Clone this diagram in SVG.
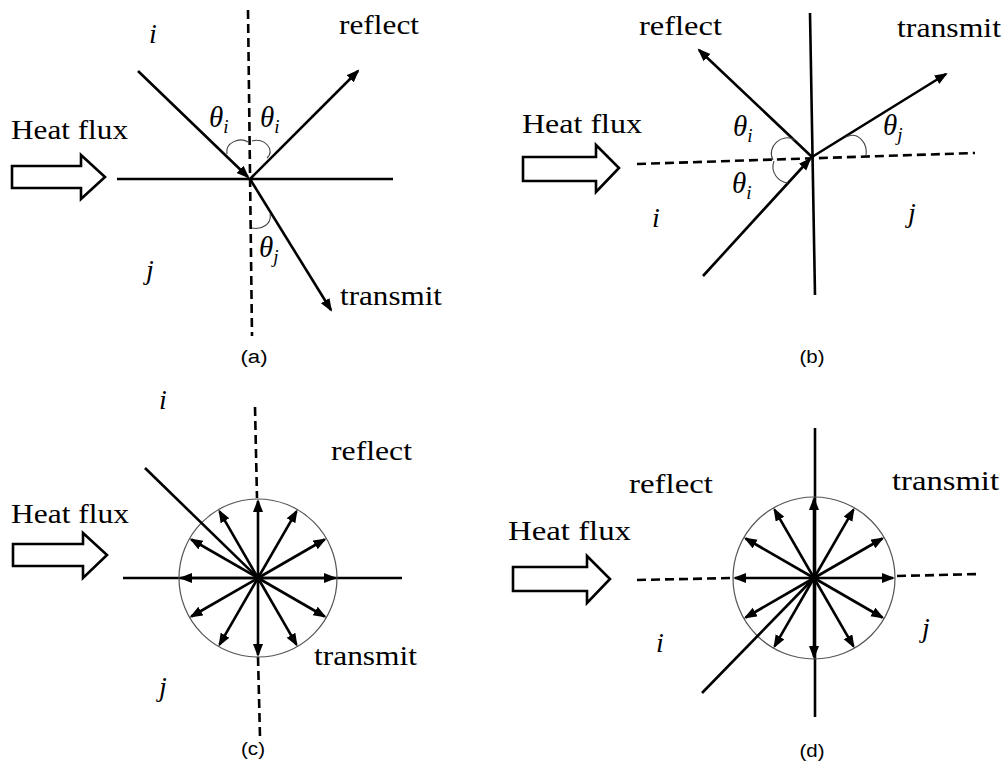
<svg xmlns="http://www.w3.org/2000/svg" width="1006" height="764" viewBox="0 0 1006 764">
<style>
.bg{fill:#fff}
.ln{stroke:#000;stroke-width:2.6;fill:none}
.ar{stroke:#000;stroke-width:2.6;fill:none;marker-end:url(#ah)}
.ds{stroke:#000;stroke-width:2.6;fill:none;stroke-dasharray:9 5}
.arc{stroke:#444;stroke-width:1.1;fill:none}
.cir{stroke:#555;stroke-width:1.2;fill:none}
.hf{stroke:#000;stroke-width:2.6;fill:#fff;stroke-linejoin:miter}
.t{font-family:"Liberation Serif","Times New Roman",serif;font-size:28px;fill:#000}
.it{font-family:"Liberation Serif","Times New Roman",serif;font-size:28px;font-style:italic;fill:#000}
.th{font-family:"Liberation Serif","Times New Roman",serif;font-size:29px;font-style:italic;fill:#000}
.sub{font-size:19px}
.cap{font-family:"Liberation Sans",Arial,sans-serif;font-size:18px;fill:#000;text-anchor:middle}
</style>
<defs>
<marker id="ah" markerUnits="userSpaceOnUse" markerWidth="15" markerHeight="12" refX="11" refY="5" orient="auto">
<path d="M0,0 L13,5 L0,10 Z" fill="#000"/>
</marker>
</defs>
<rect class="bg" x="0" y="0" width="1006" height="764"/>

<g id="panel-a">
<g id="a-connectors">
<line class="ds" x1="248" y1="10" x2="252" y2="336"/>
<line class="ln" x1="117" y1="179" x2="393" y2="179"/>
<line class="ar" x1="138" y1="71" x2="248" y2="177"/>
<line class="ar" x1="250" y1="179" x2="358" y2="71"/>
<line class="ar" x1="250" y1="179" x2="331" y2="310"/>
<path class="arc" d="M227,154 C225,142 240,137 248,142"/>
<path class="arc" d="M252,141 C264,137 276,150 267,158"/>
<path class="arc" d="M270,214 C272,224 262,230 252,228"/>
</g>
<g id="a-heatflux">
<path class="hf" d="M12,166 H81 V155 L105,177 L81,199 V188 H12 Z"/>
<text class="t" x="11" y="139" textLength="117" lengthAdjust="spacingAndGlyphs">Heat flux</text>
</g>
<text class="t" x="339" y="34" textLength="80" lengthAdjust="spacingAndGlyphs">reflect</text>
<text class="t" x="340" y="305" textLength="102" lengthAdjust="spacingAndGlyphs">transmit</text>
<text class="it" x="149" y="43">i</text>
<text class="it" x="146" y="279">j</text>
<text class="th" x="209" y="127">θ<tspan class="sub" dy="6">i</tspan></text>
<text class="th" x="260" y="127">θ<tspan class="sub" dy="6">i</tspan></text>
<text class="th" x="259" y="257">θ<tspan class="sub" dy="6">j</tspan></text>
<text class="cap" x="254" y="363" textLength="27" lengthAdjust="spacingAndGlyphs">(a)</text>
</g>

<g id="panel-b">
<g id="b-connectors">
<line class="ln" x1="810" y1="13" x2="815" y2="295"/>
<line class="ds" x1="637" y1="164" x2="975" y2="153"/>
<line class="ar" x1="812" y1="157" x2="699" y2="50"/>
<line class="ar" x1="812" y1="157" x2="946" y2="74"/>
<line class="ar" x1="703" y1="276" x2="810" y2="159"/>
<path class="arc" d="M795,140 C782,132 766,147 773,160"/>
<path class="arc" d="M774,161 C770,172 778,182 788,183"/>
<path class="arc" d="M846,137 C858,131 868,143 866,156"/>
</g>
<g id="b-heatflux">
<path class="hf" d="M523,157 H596 V145 L619,168 L596,192 V181 H523 Z"/>
<text class="t" x="522" y="133" textLength="120" lengthAdjust="spacingAndGlyphs">Heat flux</text>
</g>
<text class="t" x="639" y="35" textLength="83" lengthAdjust="spacingAndGlyphs">reflect</text>
<text class="t" x="897" y="37" textLength="104" lengthAdjust="spacingAndGlyphs">transmit</text>
<text class="it" x="652" y="227">i</text>
<text class="it" x="908" y="222">j</text>
<text class="th" x="733" y="136">θ<tspan class="sub" dy="6">i</tspan></text>
<text class="th" x="732" y="193">θ<tspan class="sub" dy="6">i</tspan></text>
<text class="th" x="883" y="135">θ<tspan class="sub" dy="6">j</tspan></text>
<text class="cap" x="812" y="363" textLength="25" lengthAdjust="spacingAndGlyphs">(b)</text>
</g>

<g id="panel-c">
<g id="c-connectors">
<line class="ds" x1="255" y1="407" x2="257" y2="498"/>
<line class="ds" x1="258" y1="657" x2="260" y2="737"/>
<line class="ln" x1="123" y1="578" x2="402" y2="578"/>
<circle class="cir" cx="258" cy="578" r="79"/>
<line class="ln" x1="145" y1="468" x2="258" y2="578"/>
<line class="ar" x1="258" y1="578" x2="335" y2="578"/>
<line class="ar" x1="258" y1="578" x2="324.7" y2="539.5"/>
<line class="ar" x1="258" y1="578" x2="296.5" y2="511.3"/>
<line class="ar" x1="258" y1="578" x2="258" y2="501"/>
<line class="ar" x1="258" y1="578" x2="219.5" y2="511.3"/>
<line class="ar" x1="258" y1="578" x2="191.3" y2="539.5"/>
<line class="ar" x1="258" y1="578" x2="181" y2="578"/>
<line class="ar" x1="258" y1="578" x2="191.3" y2="616.5"/>
<line class="ar" x1="258" y1="578" x2="219.5" y2="644.7"/>
<line class="ar" x1="258" y1="578" x2="258" y2="655"/>
<line class="ar" x1="258" y1="578" x2="296.5" y2="644.7"/>
<line class="ar" x1="258" y1="578" x2="324.7" y2="616.5"/>
</g>
<g id="c-heatflux">
<path class="hf" d="M13,544 H83 V533 L107,555 L83,578 V566 H13 Z"/>
<text class="t" x="11" y="523" textLength="118" lengthAdjust="spacingAndGlyphs">Heat flux</text>
</g>
<text class="t" x="331" y="460" textLength="81" lengthAdjust="spacingAndGlyphs">reflect</text>
<text class="t" x="314" y="665" textLength="103" lengthAdjust="spacingAndGlyphs">transmit</text>
<text class="it" x="159" y="409">i</text>
<text class="it" x="159" y="696">j</text>
<text class="cap" x="253" y="755" textLength="24" lengthAdjust="spacingAndGlyphs">(c)</text>
</g>

<g id="panel-d">
<g id="d-connectors">
<line class="ln" x1="815" y1="428" x2="815" y2="717"/>
<line class="ds" x1="637" y1="580" x2="733" y2="578"/>
<line class="ds" x1="897" y1="576" x2="980" y2="574"/>
<circle class="cir" cx="814" cy="578" r="81"/>
<line class="ln" x1="702" y1="693" x2="814" y2="578"/>
<line class="ar" x1="814" y1="578" x2="893" y2="578"/>
<line class="ar" x1="814" y1="578" x2="882.4" y2="538.5"/>
<line class="ar" x1="814" y1="578" x2="853.5" y2="509.6"/>
<line class="ar" x1="814" y1="578" x2="814" y2="499"/>
<line class="ar" x1="814" y1="578" x2="774.5" y2="509.6"/>
<line class="ar" x1="814" y1="578" x2="745.6" y2="538.5"/>
<line class="ar" x1="814" y1="578" x2="735" y2="578"/>
<line class="ar" x1="814" y1="578" x2="745.6" y2="617.5"/>
<line class="ar" x1="814" y1="578" x2="774.5" y2="646.4"/>
<line class="ar" x1="814" y1="578" x2="814" y2="657"/>
<line class="ar" x1="814" y1="578" x2="853.5" y2="646.4"/>
<line class="ar" x1="814" y1="578" x2="882.4" y2="617.5"/>
</g>
<g id="d-heatflux">
<path class="hf" d="M513,567 H587 V556 L610,579 L587,603 V591 H513 Z"/>
<text class="t" x="508" y="540" textLength="123" lengthAdjust="spacingAndGlyphs">Heat flux</text>
</g>
<text class="t" x="629" y="493" textLength="84" lengthAdjust="spacingAndGlyphs">reflect</text>
<text class="t" x="892" y="490" textLength="107" lengthAdjust="spacingAndGlyphs">transmit</text>
<text class="it" x="656" y="652">i</text>
<text class="it" x="922" y="637">j</text>
<text class="cap" x="812" y="757" textLength="25" lengthAdjust="spacingAndGlyphs">(d)</text>
</g>
</svg>
